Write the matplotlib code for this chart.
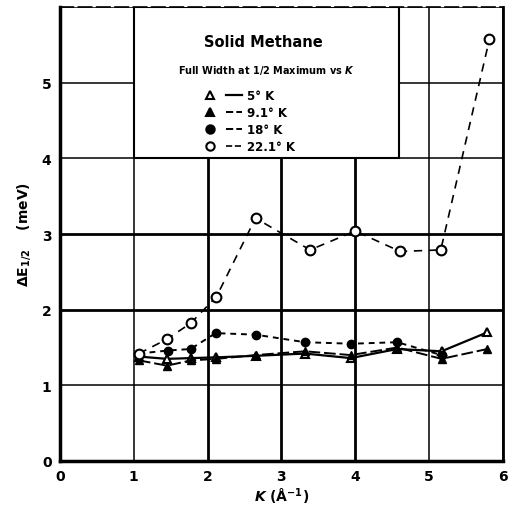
import matplotlib
matplotlib.use("Agg")
import matplotlib.pyplot as plt
from matplotlib.lines import Line2D
from matplotlib.patches import Rectangle
from matplotlib.legend_handler import HandlerTuple

# momentum transfer K (1/A) and full width at half maximum (meV)
k_5 = [1.07, 1.45, 1.78, 2.12, 2.65, 3.32, 3.94, 4.57, 5.17, 5.79]
e_5 = [1.38, 1.35, 1.36, 1.37, 1.39, 1.42, 1.36, 1.48, 1.45, 1.70]

k_9 = [1.07, 1.45, 1.78, 2.12, 2.65, 3.32, 3.94, 4.57, 5.17, 5.79]
e_9 = [1.33, 1.26, 1.33, 1.35, 1.40, 1.45, 1.40, 1.50, 1.35, 1.48]

k_18 = [1.07, 1.46, 1.77, 2.11, 2.65, 3.32, 3.95, 4.57, 5.17]
e_18 = [1.42, 1.46, 1.48, 1.69, 1.67, 1.57, 1.55, 1.57, 1.40]

k_22 = [1.07, 1.45, 1.77, 2.12, 2.65, 3.39, 4.00, 4.61, 5.16, 5.82]
e_22 = [1.42, 1.61, 1.82, 2.17, 3.21, 2.79, 3.04, 2.77, 2.79, 5.58]

labels = ["5\u00b0 K", "9.1\u00b0 K", "18\u00b0 K", "22.1\u00b0 K"]
ticks = [0, 1, 2, 3, 4, 5, 6]

plt.rcParams['font.family'] = ['DejaVu Sans']
plt.rcParams['font.weight'] = 'bold'

fig = plt.figure(figsize=(5.12, 5.06), dpi=100)
ax = fig.add_axes([0.117, 0.087, 0.865, 0.897])

ms = 6
l5, = ax.plot(k_5, e_5, color='black', lw=1.6, ls='-', marker='^', ms=ms,
              mfc='white', mec='black', mew=1.5, zorder=5)
l9, = ax.plot(k_9, e_9, color='black', lw=1.4, ls=(0, (6, 2)), marker='^', ms=ms,
              mfc='black', mec='black', zorder=5)
l18, = ax.plot(k_18, e_18, color='black', lw=1.4, ls=(0, (3, 2.5)), marker='o', ms=ms,
               mfc='black', mec='black', zorder=5)
l22, = ax.plot(k_22, e_22, color='black', lw=1.2, ls=(0, (5, 4)), marker='o', ms=ms + 1,
               mfc='white', mec='black', mew=1.5, zorder=5)

ax.set_xlim(0, 6)
ax.set_ylim(0, 6)
ax.set_xticks(ticks)
ax.set_yticks(ticks)
ax.set_yticklabels([str(t) for t in ticks[:-1]] + [""])
ax.grid(True, color='black', lw=1.1)
ax.set_axisbelow(True)
# heavier rules on the inner grid lines, as in the original chart paper
for i in [2, 3, 4]:
    ax.get_xgridlines()[i].set_linewidth(2.0)
for i in [2, 3]:
    ax.get_ygridlines()[i].set_linewidth(2.0)
ax.tick_params(length=0, labelsize=10, pad=6)
for lab in ax.get_xticklabels() + ax.get_yticklabels():
    lab.set_fontweight('bold')
for side in ['left', 'bottom']:
    ax.spines[side].set_linewidth(2.5)
ax.spines['right'].set_linewidth(2)
ax.spines['top'].set_linewidth(1.2)
ax.spines['top'].set_linestyle((0, (8, 3)))

ax.set_xlabel(r"$K$ (Å$^{-1}$)", fontsize=10, fontweight='bold', labelpad=2)
ax.set_ylabel(r"$\Delta$E$_{1/2}$    (meV)", fontsize=10, fontweight='bold', labelpad=6)

# legend panel
box = Rectangle((1, 4), 3.6, 2, facecolor='white', edgecolor='black', lw=1.5, zorder=3)
ax.add_patch(box)
ax.text(2.75, 5.55, "Solid Methane", ha='center', va='center', fontsize=10.5,
        fontweight='bold', zorder=6)
ax.text(2.8, 5.18, r"Full Width at 1/2 Maximum vs $K$", ha='center', va='center',
        fontsize=7, fontweight='bold', zorder=6)

handles = []
for ln in [l5, l9, l18, l22]:
    mk = Line2D([], [], ls='none', marker=ln.get_marker(), ms=6,
                mfc=ln.get_markerfacecolor(), mec='black', mew=1.5)
    st = Line2D([], [], color='black', lw=ln.get_linewidth(), ls=ln.get_linestyle())
    handles.append((mk, st))
leg = ax.legend(handles, labels, handler_map={tuple: HandlerTuple(ndivide=None, pad=0.6)},
                loc='upper left', bbox_to_anchor=(0.305, 0.835), frameon=False,
                fontsize=8.5, handlelength=3.4, handletextpad=0.4, labelspacing=0.35,
                borderpad=0.1)
leg.set_zorder(6)
for t in leg.get_texts():
    t.set_fontweight('bold')

fig.savefig("out.png", dpi=100, facecolor='white')
